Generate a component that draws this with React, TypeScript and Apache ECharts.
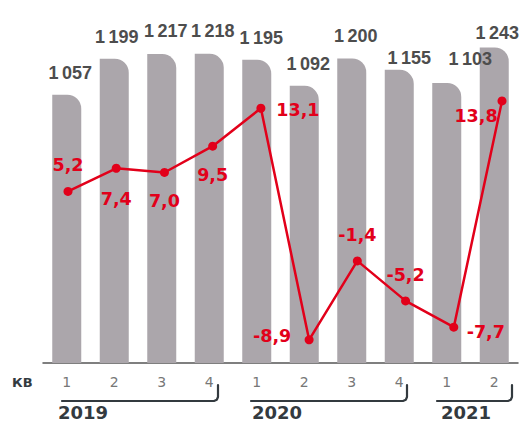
import React, { useEffect, useRef } from "react";
import * as echarts from "echarts";

const quarters = ["1", "2", "3", "4", "1", "2", "3", "4", "1", "2"];
const volumes = [1057, 1199, 1217, 1218, 1195, 1092, 1200, 1155, 1103, 1243];
const growth = [5.2, 7.4, 7.0, 9.5, 13.1, -8.9, -1.4, -5.2, -7.7, 13.8];
const years = ["2019", "2020", "2021"];

// label placement tweaks (style only)
const barLabelOffsets: [number, number][] = [
  [3.5, 0], [2.5, 0], [4, -1], [3.5, -1], [4.5, 0], [4, 0], [4, 0], [10, 10.5], [23.5, -2.5], [3, 8],
];
const lineLabelOffsets: [number, number][] = [
  [0, -26], [0, 31], [0, 29], [0, 29], [37, 2], [-37, -4], [0, -26], [0, -26], [32, 5], [-26, 15],
];

const fmtThousands = (v: number) => {
  const s = String(v);
  return s.length > 3 ? s.slice(0, s.length - 3) + "\u2009" + s.slice(-3) : s;
};
const fmtComma = (v: number) => v.toFixed(1).replace(".", ",");

const RED = "#e2001a";
const DARK = "#333a3f";

export default function App() {
  const ref = useRef<HTMLDivElement>(null);
  useEffect(() => {
    if (!ref.current) return;
    const chart = echarts.init(ref.current, undefined, { renderer: "svg" });

    const bracket = (x0: number, x1: number) => ({
      type: "polyline",
      shape: {
        points: [
          [x0, 401],
          [x1 - 4, 401],
          [x1 - 1.2, 399.8],
          [x1, 397],
          [x1, 385],
        ],
      },
      style: { stroke: DARK, lineWidth: 2.2, fill: null, lineCap: "round", lineJoin: "round" },
      silent: true,
    });
    const yearText = (x: number, t: string) => ({
      type: "text",
      x,
      y: 403,
      style: {
        text: t,
        fill: DARK,
        font: "bold 18px 'DejaVu Sans'",
        textAlign: "left",
        textVerticalAlign: "top",
      },
      silent: true,
    });

    chart.setOption({
      animation: false,
      backgroundColor: "#ffffff",
      grid: [
        { left: 43, right: 13, top: 33, bottom: 60 },
        { left: 68, right: 29, top: 33, bottom: 60 },
      ],
      xAxis: [
        {
          type: "category",
          gridIndex: 0,
          data: quarters,
          boundaryGap: true,
          axisLine: { show: true, lineStyle: { color: "#555555", width: 1.5 } },
          axisTick: { show: false },
          axisLabel: {
            color: "#777777",
            fontFamily: "DejaVu Sans",
            fontSize: 14,
            margin: 12,
          },
        },
        {
          type: "category",
          gridIndex: 1,
          data: quarters,
          boundaryGap: false,
          show: false,
        },
      ],
      yAxis: [
        { type: "value", gridIndex: 0, min: 0, max: 1300, show: false, splitLine: { show: false } },
        { type: "value", gridIndex: 1, min: -11.1, max: 20.25, show: false, splitLine: { show: false } },
      ],
      series: [
        {
          type: "bar",
          xAxisIndex: 0,
          yAxisIndex: 0,
          barWidth: 29,
          itemStyle: { color: "#aba6ab", borderRadius: [0, 14, 0, 0] },
          data: volumes.map((v, i) => ({
            value: v,
            label: {
              show: true,
              position: "top",
              distance: 13,
              offset: barLabelOffsets[i],
              formatter: () => fmtThousands(v),
              color: "#4d4d4d",
              fontFamily: "Liberation Sans",
              fontWeight: "bold",
              fontSize: 18,
            },
          })),
        },
        {
          type: "line",
          xAxisIndex: 1,
          yAxisIndex: 1,
          symbol: "circle",
          symbolSize: 9,
          lineStyle: { color: RED, width: 2.5 },
          itemStyle: { color: RED },
          data: growth.map((v, i) => ({
            value: v,
            label: {
              show: true,
              position: "inside",
              offset: lineLabelOffsets[i],
              formatter: () => fmtComma(v),
              color: RED,
              fontFamily: "DejaVu Sans",
              fontWeight: "bold",
              fontSize: 17.5,
            },
          })),
          z: 5,
        },
      ],
      graphic: [
        {
          type: "text",
          x: 12,
          y: 382,
          style: {
            text: "КВ",
            fill: DARK,
            font: "bold 13px 'DejaVu Sans'",
            textAlign: "left",
            textVerticalAlign: "middle",
          },
          silent: true,
        },
        bracket(62, 218),
        bracket(251, 407),
        bracket(437, 512),
        yearText(58, years[0]),
        yearText(252, years[1]),
        yearText(441, years[2]),
      ],
    });
    return () => chart.dispose();
  }, []);

  return <div ref={ref} style={{ width: 531, height: 423, position: "absolute", left: 0, top: 0 }} />;
}
